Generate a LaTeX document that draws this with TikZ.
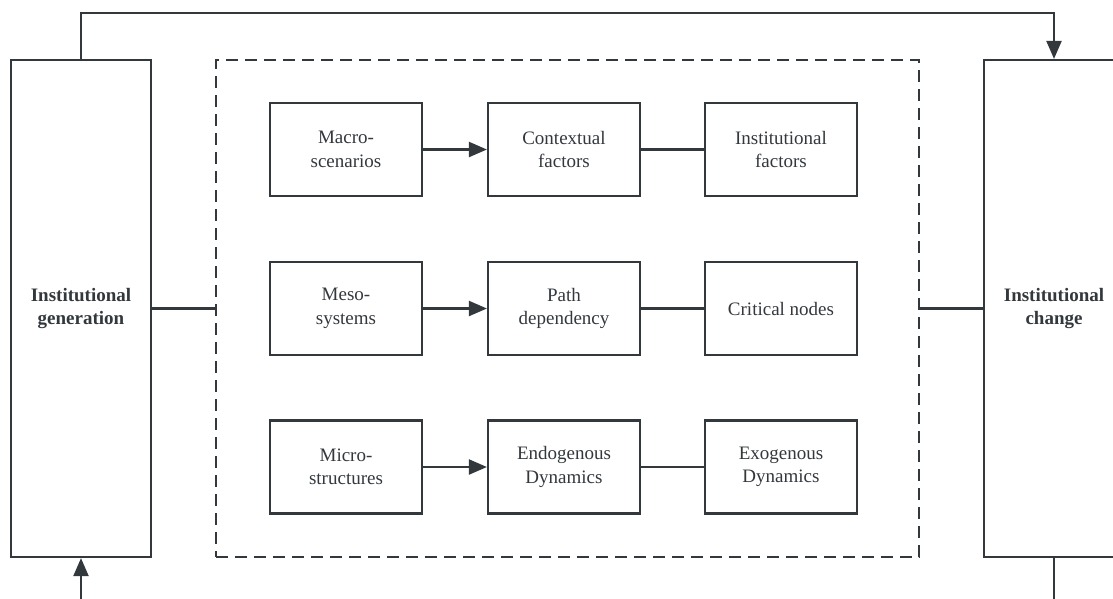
\documentclass[tikz,border=0pt]{standalone}
\usepackage{fontspec}
\setmainfont{Liberation Serif}
\usetikzlibrary{arrows.meta}
\definecolor{ln}{HTML}{33383D}
\begin{document}
\begin{tikzpicture}[x=1pt,y=-1pt,
  every node/.style={font=\fontsize{19}{23.5}\selectfont, text=ln},
  line/.style={draw=ln, line width=2.2pt},
  inbox/.style={line, minimum width=152pt, minimum height=93pt, align=center, inner sep=0pt},
  side/.style={line, minimum width=140pt, minimum height=497pt, align=center, inner sep=0pt, font=\fontsize{19}{23.5}\selectfont\bfseries},
  arr/.style={line, -{Triangle[length=18pt,width=15pt]}}]
\useasboundingbox (0,0) rectangle (1113,598);
\begin{scope}
\clip (0,0) rectangle (1113,598);
\node[side] (gen) at (81,308.5) {Institutional\\generation};
\node[side] (chg) at (1054,308.5) {Institutional\\change};
\node[line, dashed, dash pattern=on 12pt off 7pt, minimum width=703pt, minimum height=497pt] (frame) at (567.5,308.5) {};

\node[inbox] (a1) at (346,149.5) {Macro-\\scenarios};
\node[inbox] (a2) at (564,149.5) {Contextual\\factors};
\node[inbox] (a3) at (781,149.5) {Institutional\\factors};
\node[inbox] (b1) at (346,308.5) {Meso-\\systems};
\node[inbox] (b2) at (564,308.5) {Path\\dependency};
\node[inbox] (b3) at (781,308.5) {Critical nodes};
\node[inbox] (c1) at (346,467) {Micro-\\structures};
\node[inbox] (c2) at (564,467) {Endogenous\\Dynamics};
\node[inbox] (c3) at (781,467) {Exogenous\\Dynamics};

\draw[arr] (a1) -- (a2);
\draw[line] (a2) -- (a3);
\draw[arr] (b1) -- (b2);
\draw[line] (b2) -- (b3);
\draw[arr] (c1) -- (c2);
\draw[line] (c2) -- (c3);

\draw[line] (gen.east) -- (frame.west);
\draw[line] (frame.east) -- (chg.west);

\coordinate (top) at (0,13);
\draw[arr] (gen.north) |- (top -| chg.north) -- (chg.north);
\coordinate (bl) at (81,600);
\draw[arr] (bl) -- (gen.south);
\coordinate (br) at (1054,600);
\draw[line] (chg.south) -- (br);
\end{scope}
\end{tikzpicture}
\end{document}
